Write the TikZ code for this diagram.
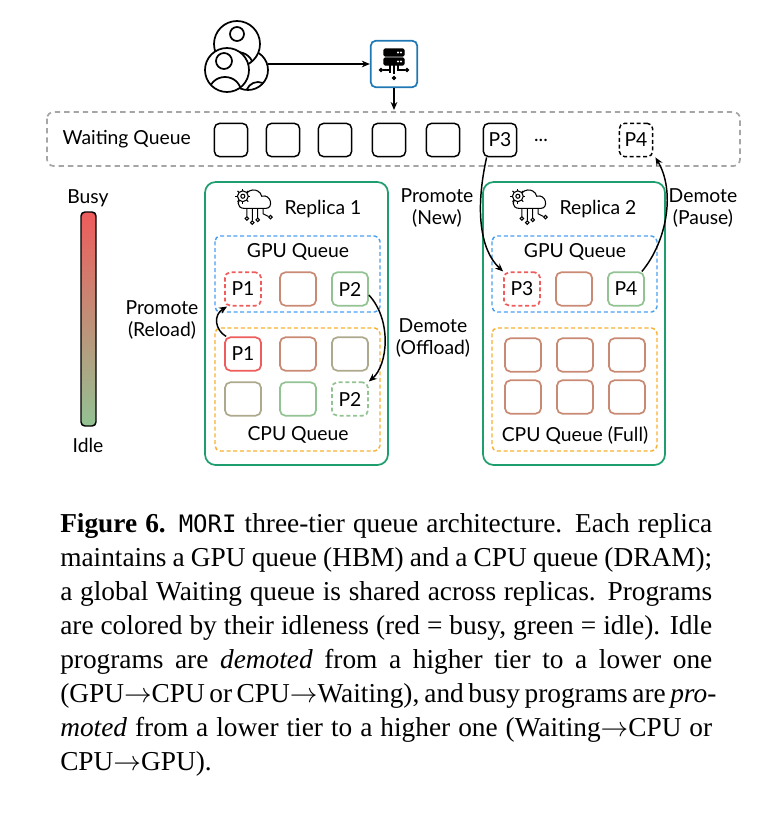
\documentclass[tikz,border=0pt]{standalone}
\usepackage{fontspec}
\setmainfont{Liberation Serif}
\newfontfamily\lato{Lato}
\newfontfamily\dejamono{DejaVu Sans Mono}
\usetikzlibrary{arrows.meta,calc}
\definecolor{cred}{HTML}{EE5C5C}
\definecolor{cbrown}{HTML}{C98A74}
\definecolor{cgreen}{HTML}{93C293}
\definecolor{colive}{HTML}{ADA98C}
\definecolor{rgreen}{HTML}{1E9E6E}
\definecolor{qblue}{HTML}{4A9EF0}
\definecolor{qorange}{HTML}{F8B030}
\definecolor{sblue}{HTML}{1F78B4}
\tikzset{
 lab/.style={font=\lato\fontsize{14.5}{17}\selectfont, align=center, inner sep=1pt},
 cell/.style={draw=#1, line width=1.3pt, rounded corners=4pt, minimum width=27pt, minimum height=25pt, inner sep=0pt, font=\lato\fontsize{14.5}{17}\selectfont},
 dcell/.style={cell=#1, dashed, dash pattern=on 3pt off 2pt},
 wcell/.style={draw=black, line width=1.1pt, rounded corners=4pt, minimum width=25pt, minimum height=25pt, inner sep=0pt, font=\lato\fontsize{14.5}{17}\selectfont},
 replica/.style={draw=rgreen, line width=1.3pt, rounded corners=8pt},
 gpuq/.style={draw=qblue, line width=1.1pt, dash pattern=on 3pt off 2pt, rounded corners=4pt},
 cpuq/.style={draw=qorange, line width=1.1pt, dash pattern=on 3pt off 2pt, rounded corners=4pt},
 arr/.style={-{Stealth[length=6pt,width=5pt]}, line width=1.1pt},
 captxt/.style={anchor=base west, inner sep=0pt, font=\fontsize{20.5}{24}\selectfont}
}
\begin{document}
\begin{tikzpicture}[x=0.75pt,y=-0.75pt]
\useasboundingbox (0,0) rectangle (775,821);
% users icon
\begin{scope}[line width=1.3pt]
\fill[white] (248,70) circle (20); \draw (248,70) circle (20);
\begin{scope}
\clip (248,70) circle (20);
\draw (246,94) arc (180:360:12 and 12);
\end{scope}
\fill[white] (237,44) circle (23); \draw (237,44) circle (23);
\draw (237,34) circle (7);
\begin{scope}
\clip (237,44) circle (23);
\draw (221,66) arc (180:360:16 and 14);
\end{scope}
\fill[white] (227,70) circle (22); \draw (227,70) circle (22);
\draw (224,61) circle (8);
\begin{scope}
\clip (227,70) circle (22);
\draw (209,92) arc (180:360:16 and 15);
\end{scope}
\end{scope}
\node[draw=sblue, line width=1.3pt, rounded corners=4pt, minimum width=35pt, minimum height=35pt] (srv) at (394,64) {};
\begin{scope}[line width=1pt]
\draw[rounded corners=1pt, fill=black] (384,49) rectangle (404,56);
\draw[rounded corners=1pt, fill=black] (384,58) rectangle (404,65);
\fill[white] (398,52.5) circle (1.2) (401,52.5) circle (1.2) (398,61.5) circle (1.2) (401,61.5) circle (1.2);
\draw (394,65) -- (394,74) (390,65)--(390,70)--(383,70) (398,65)--(398,70)--(405,70) (390,65)--(390,73);
\draw[fill=white] (394,78) circle (1.4) (381,70) circle (1.4) (407,70) circle (1.4);
\end{scope}
\coordinate (users) at (268,64);
\draw[arr] (users) -- (srv.west);
% waiting queue
\draw[draw=gray!70, line width=1.3pt, dash pattern=on 4pt off 3pt, rounded corners=5pt] (47,112) rectangle (740,166);
\draw[arr] (srv.south) -- (394,110);
\node[lab, anchor=west] (wq) at (61,139) {Waiting Queue};
\foreach \x/\n in {231/w1,283/w2,335/w3,389/w4,443/w5}{\node[wcell] (\n) at (\x,140) {};}
\node[wcell] (wp3) at (500,140) {P3};
\node[lab] (dots) at (541,140) {...};
\node[wcell, dashed, dash pattern=on 3pt off 2pt] (wp4) at (636,140) {P4};
% busy/idle bar
\shade[top color=cred, bottom color=cgreen, rounded corners=3pt] (81,212) rectangle (96,426);
\draw[line width=1.1pt, rounded corners=3pt] (81,212) rectangle (96,426);
\node[lab] (busy) at (88,198) {Busy};
\node[lab] (idle) at (88,445) {Idle};
% replica icons macro
\newcommand\cloudicon[2]{%
\begin{scope}[shift={(#1,#2)}, scale=1.35, line width=0.8pt]
\draw (-8,4) .. controls (-14,4) and (-14,-4) .. (-8,-3) .. controls (-7,-11) and (3,-12) .. (5,-5) .. controls (12,-7) and (14,4) .. (8,4) -- cycle;
\draw[fill=white] (-9,-5) circle (4); \draw (-9,-5) circle (1.5);
\foreach \a in {0,45,...,315}{\draw (-9,-5) ++(\a:4) -- ++(\a:1.6);}
\draw (-6,4)--(-6,10) (-2,4)--(-2,13) (2,4)--(2,11) (6,4)--(6,8)--(10,10);
\draw[fill=white] (-6,11.5) circle (1.3) (-2,14.5) circle (1.3) (2,12.5) circle (1.3) (11.5,10.5) circle (1.3);
\end{scope}}
% Replica 1
\draw[replica] (205,182) rectangle (388,465);
\cloudicon{255}{203}
\node[lab, anchor=west] (r1) at (283,209) {Replica 1};
\draw[gpuq] (215,236) rectangle (380,312);
\node[lab] (g1) at (298,252) {GPU Queue};
\node[dcell=cred] (g1p1) at (243,289) {P1};
\node[cell=cbrown] (g1b) at (298,289) {};
\node[cell=cgreen] (g1p2) at (350,289) {P2};
\draw[cpuq] (215,328) rectangle (380,451);
\node[cell=cred] (c1p1) at (243,354) {P1};
\node[cell=cbrown] (c1b) at (298,354) {};
\node[cell=colive] (c1c) at (350,354) {};
\node[cell=colive] (c1d) at (243,399) {};
\node[cell=cgreen] (c1e) at (298,399) {};
\node[dcell=cgreen] (c1p2) at (350,399) {P2};
\node[lab] (cq1) at (298,435) {CPU Queue};
% Replica 2
\draw[replica] (483,182) rectangle (665,465);
\cloudicon{530}{203}
\node[lab, anchor=west] (r2) at (558,209) {Replica 2};
\draw[gpuq] (492,236) rectangle (657,312);
\node[lab] (g2) at (575,252) {GPU Queue};
\node[dcell=cred] (g2p3) at (522,289) {P3};
\node[cell=cbrown] (g2b) at (574,289) {};
\node[cell=cgreen] (g2p4) at (626,289) {P4};
\draw[cpuq] (492,328) rectangle (657,451);
\foreach \x/\n in {523/a,575/b,627/c}{\node[cell=cbrown] (c2\n1) at (\x,355) {}; \node[cell=cbrown] (c2\n2) at (\x,397) {};}
\node[lab] (cq2) at (575,435) {CPU Queue (Full)};
% labels
\node[lab] (pr) at (162,320) {Promote\\(Reload)};
\node[lab] (dof) at (433,338) {Demote\\(Offload)};
\node[lab] (pn) at (437,208) {Promote\\(New)};
\node[lab] (dp) at (703,208) {Demote\\(Pause)};
% arrows
\draw[arr] (c1p1.north west) ++(2,0) .. controls (215,330) and (213,315) .. ($(g1p1.south west)+(3,0)$);
\draw[arr] (g1p2.east) ++(0,6) .. controls (392,320) and (388,365) .. (c1p2.north east);
\draw[arr] (wp3.south west) ++(4,0) .. controls (475,210) and (480,250) .. (g2p3.north west);
\draw[arr] (g2p4.north east) ++(-3,0) .. controls (668,240) and (675,190) .. ($(wp4.south east)+(2,0)$);
% caption
\node[captxt] (c1) at (60,532) {\makebox[489pt][s]{\textbf{Figure 6.} {\dejamono\fontsize{18}{20}\selectfont MORI} three-tier queue architecture. Each replica}};
\node[captxt] (c2) at (60,566) {\makebox[489pt][s]{maintains a GPU queue (HBM) and a CPU queue (DRAM);}};
\node[captxt] (c3) at (60,600) {\makebox[489pt][s]{a global Waiting queue is shared across replicas. Programs}};
\node[captxt] (c4) at (60,634) {\makebox[489pt][s]{are colored by their idleness (red = busy, green = idle). Idle}};
\node[captxt] (c5) at (60,668) {\makebox[489pt][s]{programs are \textit{demoted} from a higher tier to a lower one}};
\node[captxt] (c6) at (60,702) {\makebox[489pt][s]{(GPU$\rightarrow$CPU or CPU$\rightarrow$Waiting), and busy programs are \textit{pro-}}};
\node[captxt] (c7) at (60,736) {\makebox[489pt][s]{\textit{moted} from a lower tier to a higher one (Waiting$\rightarrow$CPU or}};
\node[captxt] (c8) at (60,770) {CPU$\rightarrow$GPU).};
\end{tikzpicture}
\end{document}
